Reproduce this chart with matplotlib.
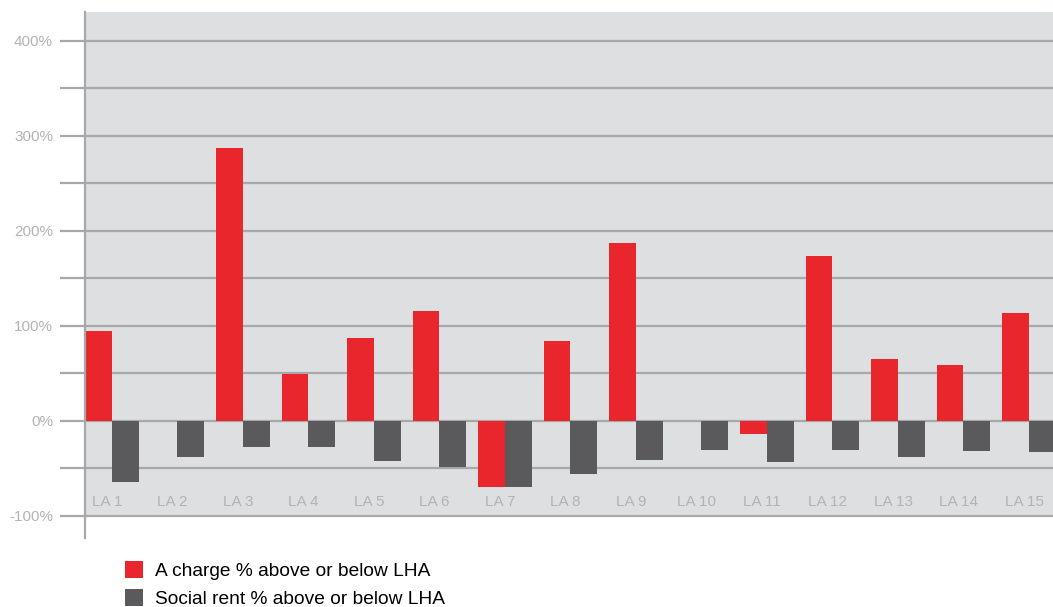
import matplotlib.pyplot as plt
from matplotlib.ticker import MultipleLocator, FuncFormatter
import numpy as np

# data (percent above / below LHA)
categories = ["LA 1", "LA 2", "LA 3", "LA 4", "LA 5", "LA 6", "LA 7", "LA 8",
              "LA 9", "LA 10", "LA 11", "LA 12", "LA 13", "LA 14", "LA 15"]
a_charge = [94, 0, 287, 49, 87, 115, -70, 84, 187, 0, -14, 173, 65, 59, 113]
social_rent = [-65, -38, -28, -28, -43, -49, -70, -56, -41, -31, -44, -31, -38, -32, -33]
series_names = ["A charge % above or below LHA", "Social rent % above or below LHA"]

red = "#E8262B"
dark = "#5A5A5C"
bg = "#DEDFE1"
grid = "#A7A8AA"
lab = "#B3B3B3"

plt.rcParams['font.family'] = ['Liberation Sans', 'DejaVu Sans']

fig = plt.figure(figsize=(10.53, 6.07), dpi=100)
ax = fig.add_axes([85/1053, 1-538/607, 968/1053, 526/607])
ax.set_facecolor('none')

x = np.arange(len(categories))
w = 0.412
ax.set_xlim(0, 968/65.5)
ax.set_ylim(-123.5, 430)

# grey panel stops at the -100% line, axis keeps going below
ax.axhspan(-100, 440, color=bg, zorder=0, lw=0)
for yv in np.arange(-100, 401, 50):
    ax.axhline(yv, color=grid, lw=1.6, zorder=1)

b1 = ax.bar(x, a_charge, w, align='edge', color=red, zorder=2, label=series_names[0])
b2 = ax.bar(x + w, social_rent, w, align='edge', color=dark, zorder=2, label=series_names[1])

for i, c in enumerate(categories):
    ax.text(i + 0.336, -86, c, ha='center', va='center', color=lab, fontsize=11)

for s in ['top', 'right', 'bottom']:
    ax.spines[s].set_visible(False)
ax.spines['left'].set_color(grid)
ax.spines['left'].set_linewidth(1.6)

ax.set_xticks([])
ax.yaxis.set_major_locator(MultipleLocator(100))
ax.yaxis.set_minor_locator(MultipleLocator(50))
ax.yaxis.set_major_formatter(FuncFormatter(lambda v, p: f"{v:.0f}%"))
ax.tick_params(axis='y', which='both', length=18, width=1.6, color=grid,
               labelcolor=lab, labelsize=11, pad=5)

fig.legend(handles=[b1, b2], loc='upper left', bbox_to_anchor=(125/1053, 1-561/607),
           frameon=False, fontsize=13.8, handlelength=0.95, handleheight=0.95,
           handletextpad=0.62, labelspacing=0.5, borderpad=0, borderaxespad=0)

fig.savefig("out.png", dpi=100)
